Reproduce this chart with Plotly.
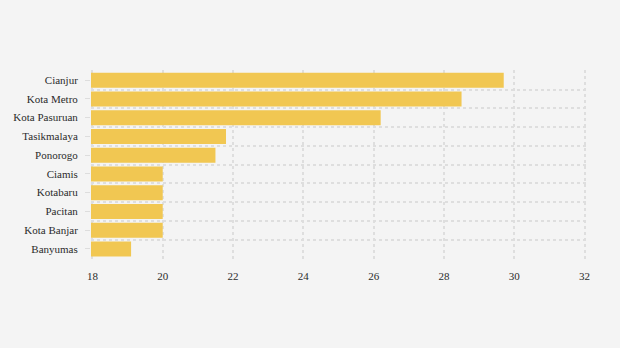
import plotly.graph_objects as go

regions = ["Cianjur", "Kota Metro", "Kota Pasuruan", "Tasikmalaya", "Ponorogo",
           "Ciamis", "Kotabaru", "Pacitan", "Kota Banjar", "Banyumas"]
values = [29.7, 28.5, 26.2, 21.8, 21.5, 20.0, 20.0, 20.0, 20.0, 19.1]
x_ticks = [18, 20, 22, 24, 26, 28, 30, 32]

BG = "#f4f4f4"
GRID = "#dedede"
FONT = dict(family="Liberation Serif, serif", size=11, color="#2b2b2b")

n = len(regions)
# small padding so the outermost dashed grid lines stay inside the plot area
pad = 0.04
y_range = [n - 0.5 + pad, -0.5 - pad]

fig = go.Figure()
fig.add_trace(go.Bar(
    y=regions, x=values, orientation="h",
    marker=dict(color="#f1c752", line=dict(width=0)),
    hoverinfo="x+y",
))
# helper trace on an overlaid category axis that draws grid lines between rows
fig.add_trace(go.Scatter(
    y=regions, x=values, yaxis="y2", mode="markers",
    marker=dict(opacity=0), hoverinfo="skip", showlegend=False,
))

fig.update_layout(
    width=620, height=348,
    paper_bgcolor=BG, plot_bgcolor=BG,
    margin=dict(l=91, r=34, t=70, b=89),
    font=FONT,
    bargap=0.2,
    showlegend=False,
    xaxis=dict(
        range=[18 - 0.04, 32 + 0.04], tickvals=x_ticks, ticktext=[str(v) for v in x_ticks],
        showgrid=True, gridcolor=GRID, gridwidth=1.5, griddash="3px,3px",
        zeroline=False, showline=False,
        ticks="outside", ticklen=7, tickcolor="rgba(0,0,0,0)",
    ),
    yaxis=dict(
        type="category", categoryorder="array", categoryarray=regions,
        range=y_range,
        showgrid=False, zeroline=False, showline=False,
        ticks="outside", ticklen=5, tickcolor="#dddddd", tickwidth=1,
        ticklabelstandoff=5,
    ),
    yaxis2=dict(
        type="category", categoryorder="array", categoryarray=regions,
        range=y_range,
        overlaying="y", side="left",
        tickson="boundaries",
        showgrid=True, gridcolor=GRID, gridwidth=1.5, griddash="3px,3px",
        zeroline=False, showline=False,
        showticklabels=False, ticks="",
    ),
)

fig.write_html("out.html")
